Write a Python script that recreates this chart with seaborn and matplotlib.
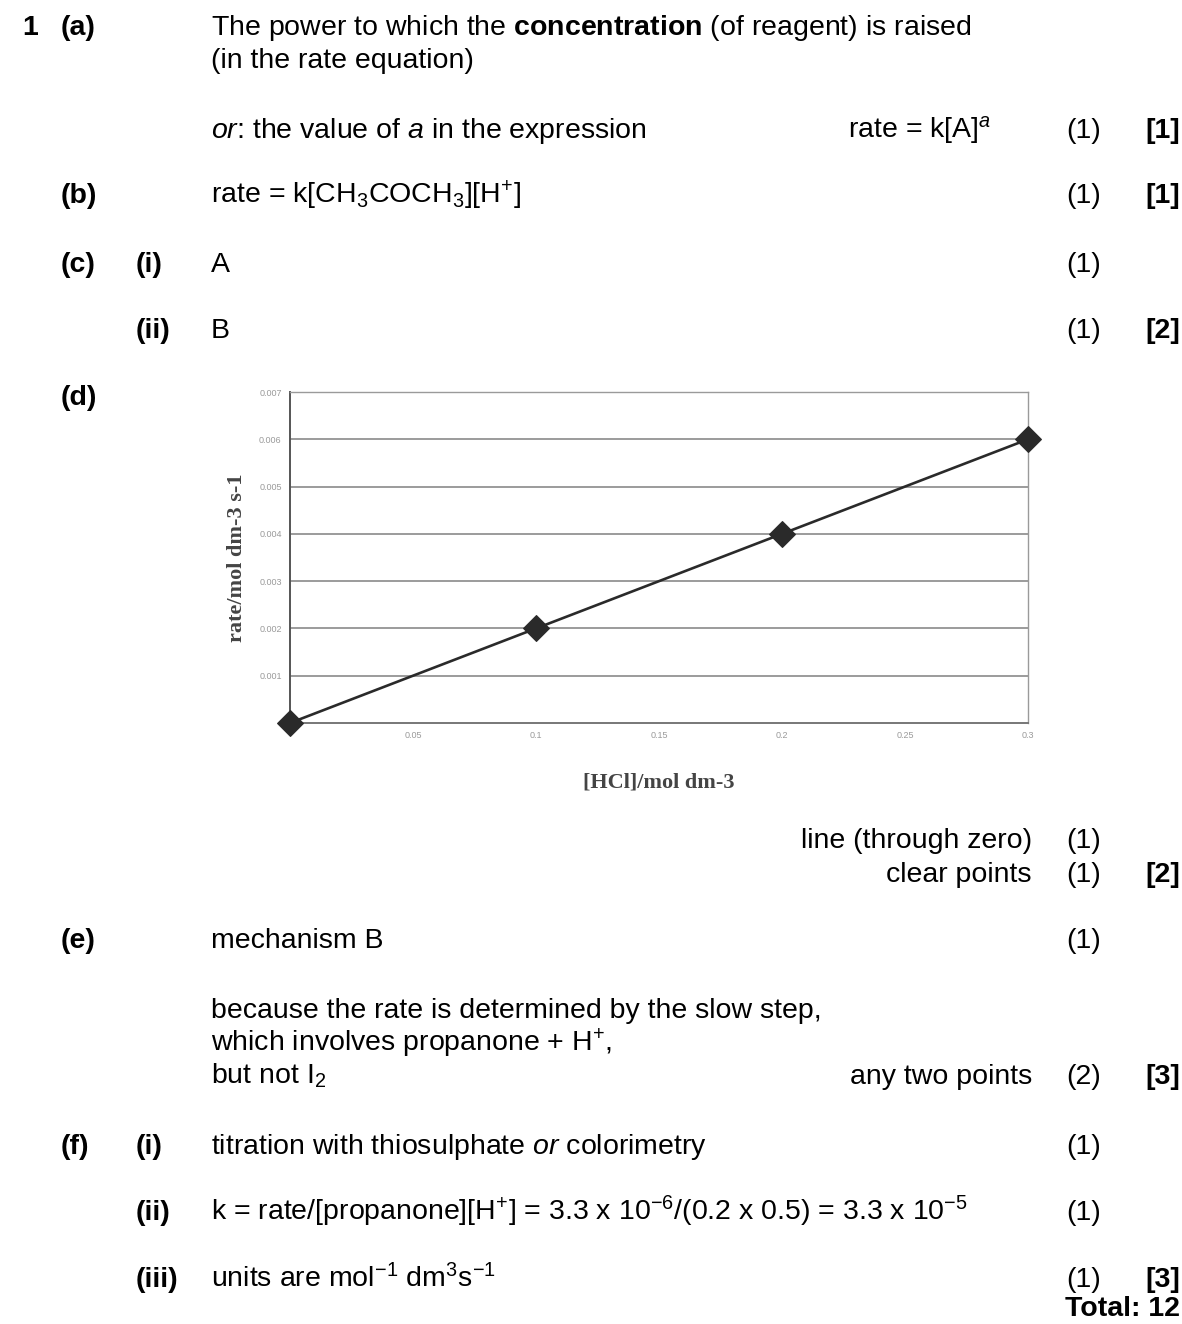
import numpy as np
import pandas as pd
import seaborn as sns
import matplotlib.pyplot as plt

# --- chart data (part d) ---
hcl_conc = [0.0, 0.1, 0.2, 0.3]
rate = [0.0, 0.002, 0.004, 0.006]
x_ticks = [0.05, 0.1, 0.15, 0.2, 0.25, 0.3]
x_tick_labels = ['0.05', '0.1', '0.15', '0.2', '0.25', '0.3']
y_ticks = [0.001, 0.002, 0.003, 0.004, 0.005, 0.006, 0.007]
y_tick_labels = ['0.001', '0.002', '0.003', '0.004', '0.005', '0.006', '0.007']

sns.set_style('white')
plt.rcParams['font.family'] = ['Liberation Sans', 'DejaVu Sans']
plt.rcParams['mathtext.fontset'] = 'custom'
plt.rcParams['mathtext.rm'] = 'Liberation Sans'
plt.rcParams['mathtext.it'] = 'Liberation Sans:italic'
plt.rcParams['mathtext.bf'] = 'Liberation Sans:bold'

W, H = 1182, 1324
fig = plt.figure(figsize=(W / 100, H / 100), dpi=100)
fig.patch.set_facecolor('white')

FS = 20.5


def put(x, y, s, bold=False, ha='left', **kw):
    fig.text(x / W, 1 - y / H, s, fontsize=FS, ha=ha, va='baseline',
             fontweight='bold' if bold else 'normal', color='black', **kw)


def marks(y, m=None, total=None):
    if m is not None:
        put(1066, y, m)
    if total is not None:
        put(1145, y, total, bold=True)


# --- text of the mark scheme ---
put(22, 35, '1', bold=True)
put(61, 35, '(a)', bold=True)
put(211, 35, r'The power to which the $\mathbf{concentration}$ (of reagent) is raised')
put(211, 68, '(in the rate equation)')
put(211, 138, r'$\mathit{or}$: the value of $\mathit{a}$ in the expression')
put(848, 138, r'rate = k[A]$^{\mathit{a}}$')
marks(138, '(1)', '[1]')

put(61, 203, '(b)', bold=True)
put(211, 203, r'rate = k[CH$_3$COCH$_3$][H$^{+}$]')
marks(203, '(1)', '[1]')

put(61, 272, '(c)', bold=True)
put(136, 272, '(i)', bold=True)
put(211, 272, 'A')
marks(272, '(1)')
put(136, 338, '(ii)', bold=True)
put(211, 338, 'B')
marks(338, '(1)', '[2]')

put(61, 405, '(d)', bold=True)

put(1032, 848, 'line (through zero)', ha='right')
marks(848, '(1)')
put(1032, 882, 'clear points', ha='right')
marks(882, '(1)', '[2]')

put(61, 948, '(e)', bold=True)
put(211, 948, 'mechanism B')
marks(948, '(1)')
put(211, 1018, 'because the rate is determined by the slow step,')
put(211, 1051, r'which involves propanone + H$^{+}$,')
put(211, 1084, r'but not I$_2$')
put(1032, 1084, 'any two points', ha='right')
marks(1084, '(2)', '[3]')

put(61, 1154, '(f)', bold=True)
put(136, 1154, '(i)', bold=True)
put(211, 1154, r'titration with thiosulphate $\mathit{or}$ colorimetry')
marks(1154, '(1)')
put(136, 1220, '(ii)', bold=True)
put(211, 1220, r'k = rate/[propanone][H$^{+}$] = 3.3 x 10$^{-6}$/(0.2 x 0.5) = 3.3 x 10$^{-5}$')
marks(1220, '(1)')
put(136, 1287, '(iii)', bold=True)
put(211, 1287, r'units are mol$^{-1}$ dm$^{3}$s$^{-1}$')
marks(1287, '(1)', '[3]')
put(1180, 1316, 'Total: 12', bold=True, ha='right')

# --- embedded chart ---
left, right, top, bottom = 290, 1028, 392, 723
ax = fig.add_axes([left / W, 1 - bottom / H, (right - left) / W, (bottom - top) / H])
df = pd.DataFrame({'conc': hcl_conc, 'rate': rate})
sns.lineplot(data=df, x='conc', y='rate', ax=ax, color='#2a2a2a', linewidth=1.9,
             marker='D', markersize=13.5, markeredgecolor='#2a2a2a', clip_on=False,
             zorder=5)
ax.set_xlim(0, 0.3)
ax.set_ylim(0, 0.007)
ax.set_xticks(x_ticks)
ax.set_xticklabels(x_tick_labels)
ax.set_yticks(y_ticks)
ax.set_yticklabels(y_tick_labels)
ax.tick_params(axis='both', labelsize=6.5, colors='#9a9a9a', length=0, pad=6)
for yv in y_ticks:
    ax.axhline(yv, color='#8a8a8a', linewidth=1.2, zorder=1)
for side in ['top', 'right']:
    ax.spines[side].set_visible(True)
    ax.spines[side].set_color('#9a9a9a')
    ax.spines[side].set_linewidth(1.0)
ax.spines['left'].set_color('#555555')
ax.spines['left'].set_linewidth(1.4)
ax.spines['bottom'].set_color('#777777')
ax.spines['bottom'].set_linewidth(1.4)
ax.set_xlabel('[HCl]/mol dm-3', fontsize=16, fontweight='bold', color='#444444',
              family=['Liberation Serif', 'DejaVu Serif'])
ax.set_ylabel('rate/mol dm-3 s-1', fontsize=16, fontweight='bold', color='#444444',
              family=['Liberation Serif', 'DejaVu Serif'])
ax.xaxis.set_label_coords(0.5, -(772 - bottom) / (bottom - top))
ax.yaxis.set_label_coords((247 - left) / (right - left), 0.5)

fig.savefig('out.png', dpi=100, facecolor='white')
